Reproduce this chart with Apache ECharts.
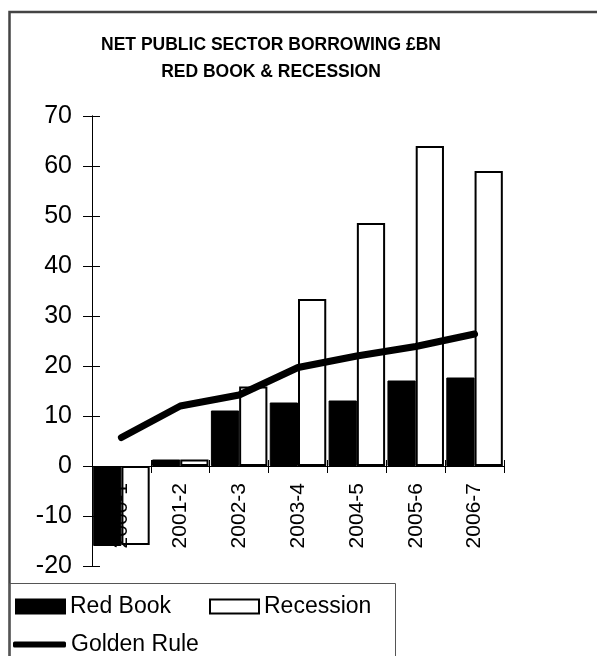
<!DOCTYPE html>
<html>
<head>
<meta charset="utf-8">
<script src="https://cdn.jsdelivr.net/npm/echarts@6/dist/echarts.min.js"></script>
<style>
  html, body { margin: 0; padding: 0; background: #fff; }
  #chart { width: 597px; height: 656px; }
</style>
</head>
<body>
<div id="chart"></div>
<script>
// Net public sector borrowing, £bn
const years = ['2000-1', '2001-2', '2002-3', '2003-4', '2004-5', '2005-6', '2006-7'];
const redBook = [-16, 1.3, 11.1, 12.7, 13.1, 17.1, 17.7];
const recession = [-15.8, 1.3, 15.9, 33.4, 48.6, 64, 59];
const goldenRule = [5.7, 12, 14.2, 19.7, 22, 23.9, 26.4];
const yTicks = { min: -20, max: 70, step: 10 };

const FONT = 'Liberation Sans, Arial, sans-serif';
const chart = echarts.init(document.getElementById('chart'), null, { renderer: 'canvas' });

// grid spans -20..70; the category axis sits on the zero line
const GRID = { left: 92, right: 93, top: 116, bottom: 90 };
const plotH = 656 - GRID.top - GRID.bottom;
const zeroShift = plotH * (0 - yTicks.min) / (yTicks.max - yTicks.min);

const valueAxisBase = {
  type: 'value',
  min: yTicks.min,
  max: yTicks.max,
  interval: yTicks.step,
  splitLine: { show: false },
  axisLine: { show: true, lineStyle: { color: '#000', width: 1 } }
};

const catAxisBase = {
  type: 'category',
  data: years,
  position: 'bottom',
  offset: -zeroShift,
  z: 10,
  axisLine: { onZero: false, show: true, lineStyle: { color: '#000', width: 1 } }
};

chart.setOption({
  animation: false,
  backgroundColor: '#fff',
  title: {
    text: 'NET PUBLIC SECTOR BORROWING £BN\nRED BOOK & RECESSION',
    left: 271,
    textAlign: 'center',
    top: 32,
    padding: 0,
    textStyle: { fontFamily: FONT, fontSize: 17.5, fontWeight: 'bold', color: '#000', lineHeight: 27 }
  },
  grid: GRID,
  legend: [
    {
      data: [{ name: 'Red Book', icon: 'rect' }, { name: 'Recession', icon: 'rect' }],
      left: 15, top: 595, padding: 0,
      itemWidth: 49, itemHeight: 14, itemGap: 38,
      textStyle: { fontFamily: FONT, fontSize: 23, color: '#000' },
      selectedMode: false
    },
    {
      data: [{ name: 'Golden Rule', icon: 'roundRect' }],
      left: 13, top: 633, padding: 0,
      itemWidth: 53, itemHeight: 6,
      itemStyle: { color: '#000' },
      textStyle: { fontFamily: FONT, fontSize: 23, color: '#000' },
      selectedMode: false
    }
  ],
  xAxis: [
    Object.assign({}, catAxisBase, {
      axisTick: { show: true, length: 7, lineStyle: { color: '#000' } },
      axisLabel: {
        rotate: 90,
        margin: 17,
        fontFamily: FONT,
        fontSize: 21,
        color: '#000'
      }
    }),
    Object.assign({}, catAxisBase, {
      axisTick: { show: true, inside: true, length: 6, lineStyle: { color: '#000' } },
      axisLabel: { show: false }
    })
  ],
  yAxis: [
    Object.assign({}, valueAxisBase, {
      axisTick: { show: true, length: 9, lineStyle: { color: '#000' } },
      axisLabel: { fontFamily: FONT, fontSize: 25, color: '#000', margin: 20 }
    }),
    Object.assign({}, valueAxisBase, {
      position: 'left',
      axisTick: { show: true, inside: true, length: 8, lineStyle: { color: '#000' } },
      axisLabel: { show: false }
    })
  ],
  graphic: [
    {
      type: 'rect',
      shape: { x: 9.5, y: 12, width: 620, height: 680 },
      style: { fill: 'none', stroke: '#444', lineWidth: 2.5 },
      silent: true, z: 100
    },
    {
      type: 'rect',
      shape: { x: 9.5, y: 583.5, width: 386, height: 100 },
      style: { fill: 'none', stroke: '#555', lineWidth: 1 },
      silent: true, z: 100
    }
  ],
  series: [
    {
      name: 'Red Book',
      type: 'bar',
      data: redBook,
      barGap: '0%',
      barCategoryGap: '4%',
      itemStyle: { color: '#000', borderColor: '#000', borderWidth: 1 }
    },
    {
      name: 'Recession',
      type: 'bar',
      data: recession,
      itemStyle: { color: '#fff', borderColor: '#000', borderWidth: 2 }
    },
    {
      name: 'Golden Rule',
      type: 'line',
      data: goldenRule,
      symbol: 'none',
      showSymbol: false,
      z: 5,
      lineStyle: { color: '#000', width: 7, cap: 'round', join: 'round' },
      itemStyle: { color: '#000' }
    }
  ]
});
</script>
</body>
</html>
